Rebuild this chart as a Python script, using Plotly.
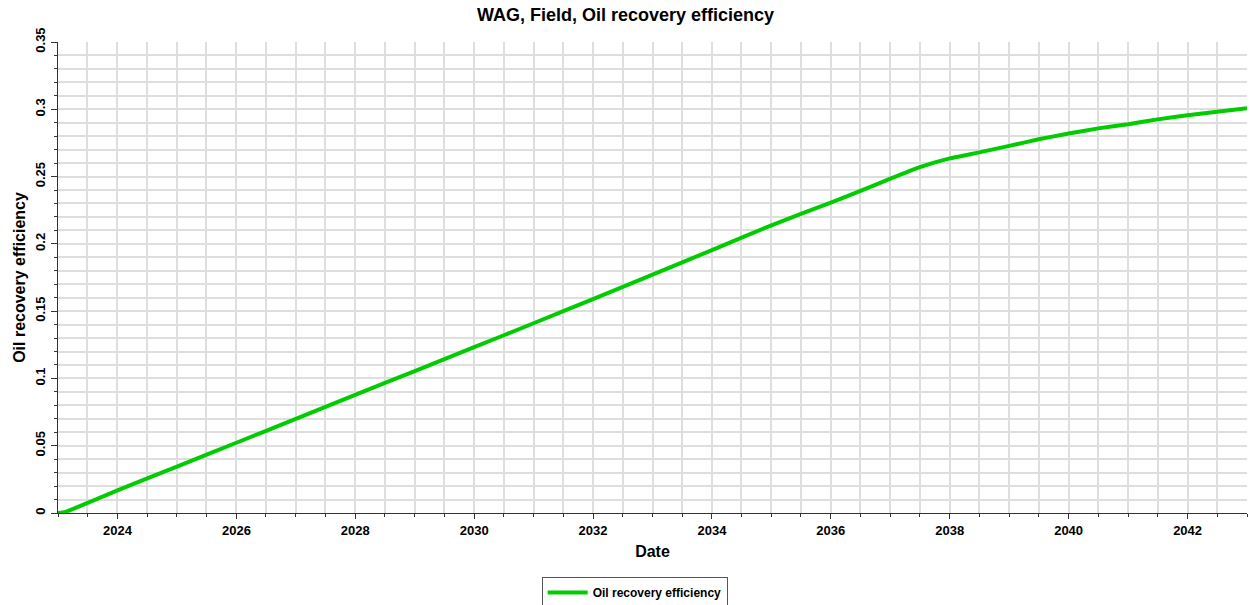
import plotly.graph_objects as go

dates = ["2023-01-01", "2023-02-15", "2024-01-01", "2025-01-01", "2026-01-01", "2027-01-01",
         "2028-01-01", "2029-01-01", "2030-01-01", "2031-01-01", "2032-01-01",
         "2033-01-01", "2034-01-01", "2035-01-01", "2036-01-01", "2036-07-01",
         "2037-01-01", "2037-07-01", "2038-01-01", "2038-07-01", "2039-01-01",
         "2039-07-01", "2040-01-01", "2040-07-01", "2041-01-01", "2041-07-01",
         "2042-01-01", "2042-07-01", "2043-01-01"]
recovery = [0.0, 0.0008, 0.0168, 0.0345, 0.0522, 0.0700, 0.0878, 0.1055, 0.1232, 0.1410, 0.1590,
            0.1772, 0.1954, 0.2138, 0.2307, 0.2393, 0.2484, 0.2570, 0.2635, 0.2680, 0.2728,
            0.2777, 0.2820, 0.2858, 0.2889, 0.2925, 0.2956, 0.2982, 0.3007]

FONT = "Liberation Sans, Arial, sans-serif"
GRID = "#dedede"

fig = go.Figure()
fig.add_trace(go.Scatter(x=dates, y=recovery, mode="lines", name="Oil recovery efficiency",
                         line=dict(color="#00cc00", width=4, shape="spline", smoothing=0.4)))

fig.update_layout(
    width=1251, height=605,
    margin=dict(l=58, r=4, t=42, b=92, autoexpand=False),
    plot_bgcolor="white", paper_bgcolor="white",
    title=dict(text="WAG, Field, Oil recovery efficiency", x=0.5, xanchor="center",
               xref="container", yref="container", y=0.975, yanchor="middle",
               automargin=False,
               font=dict(family=FONT, size=18, color="black", weight="bold")),
    font=dict(family=FONT, color="black"),
    showlegend=True,
    legend=dict(orientation="h", x=0.485, xanchor="center", y=-0.136, yanchor="top",
                bordercolor="#555555", borderwidth=1, itemwidth=40,
                font=dict(family=FONT, size=12, color="black", weight="bold")),
    xaxis=dict(
        type="date", range=["2023-01-01", "2043-01-01"], automargin=False,
        tick0="2024-01-01", dtick="M24", tickformat="%Y",
        ticks="outside", ticklen=5, tickcolor="#333333",
        showline=True, linecolor="#333333", linewidth=1,
        showgrid=True, gridcolor=GRID, gridwidth=2,
        tickfont=dict(family=FONT, size=13, color="black", weight="bold"),
        title=dict(text="Date", standoff=9,
                   font=dict(family=FONT, size=16, color="black", weight="bold")),
        minor=dict(dtick="M6", tick0="2023-01-01", ticks="outside", ticklen=3,
                   tickcolor="#333333", showgrid=True, gridcolor=GRID, gridwidth=2),
        zeroline=False,
    ),
    yaxis=dict(
        range=[0, 0.35], dtick=0.05, tick0=0, automargin=False,
        ticks="outside", ticklen=6, tickcolor="#333333", tickangle=-90,
        ticklabelstandoff=1,
        showline=True, linecolor="#333333", linewidth=1,
        showgrid=True, gridcolor=GRID, gridwidth=2,
        tickfont=dict(family=FONT, size=13, color="black", weight="bold"),
        title=dict(text="Oil recovery efficiency", standoff=3,
                   font=dict(family=FONT, size=16, color="black", weight="bold")),
        minor=dict(dtick=0.01, ticks="outside", ticklen=3, tickcolor="#333333",
                   showgrid=True, gridcolor=GRID, gridwidth=2),
        zeroline=False,
    ),
)

fig.write_html("out.html", config={"displayModeBar": False},
               post_script="document.body.style.margin='0px';")
